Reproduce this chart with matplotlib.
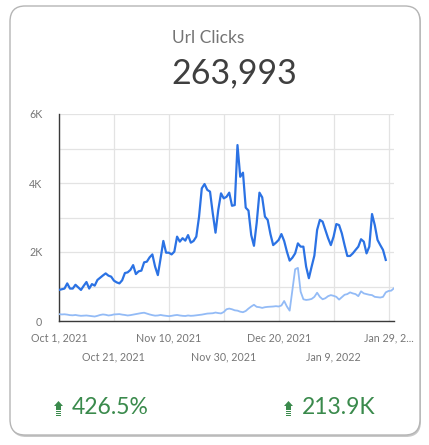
import numpy as np
import pandas as pd
import matplotlib
matplotlib.use('Agg')
import matplotlib.pyplot as plt
from matplotlib.patches import FancyBboxPatch, Polygon, Rectangle

#%% data

title = 'Url Clicks'
total = '263,993'
change_pct = '426.5%'
change_abs = '213.9K'

# daily clicks, Oct 1 2021 -> Jan 28 2022
clicks = [900, 920, 940, 1090, 940, 940, 1050, 975, 900, 1020,
          1130, 940, 1070, 1025, 1190, 1255, 1320, 1380, 1315, 1285,
          1170, 1120, 1090, 1180, 1390, 1410, 1480, 1620, 1360, 1440,
          1460, 1700, 1720, 1845, 1930, 1575, 1330, 1815, 2320, 1980,
          1980, 1930, 2010, 2445, 2300, 2400, 2330, 2490, 2270, 2320,
          2445, 3020, 3845, 3970, 3800, 3750, 3120, 2560, 3220, 3700,
          3555, 3600, 3720, 3340, 3360, 5100, 4180, 4300, 3285, 3200,
          2490, 2180, 2850, 3720, 3585, 3025, 2930, 2520, 2200, 2270,
          2350, 2520, 2320, 2010, 1750, 1835, 1960, 2250, 2155, 2155,
          1575, 1240, 1575, 1895, 2640, 2930, 2880, 2640, 2400, 2200,
          2445, 2810, 2780, 2540, 2200, 1885, 1885, 1960, 2060, 2155,
          2370, 2300, 1960, 2155, 3100, 2780, 2350, 2200, 2060, 1770]

# previous period, Oct 1 2021 -> Jan 31 2022
clicks_prev = [200, 190, 195, 185, 170, 165, 175, 160, 150, 155,
               160, 150, 140, 130, 150, 175, 190, 180, 160, 170,
               190, 195, 200, 185, 175, 160, 170, 185, 200, 215,
               230, 240, 215, 190, 170, 155, 160, 175, 160, 150,
               140, 150, 165, 175, 160, 150, 145, 160, 150, 155,
               165, 175, 185, 200, 215, 220, 225, 245, 230, 220,
               260, 340, 360, 340, 310, 300, 270, 255, 290, 360,
               420, 470, 410, 400, 380, 400, 410, 415, 420, 430,
               420, 450, 580, 420, 300, 900, 1500, 1540, 850, 630,
               610, 620, 640, 700, 820, 700, 630, 660, 720, 750,
               730, 700, 620, 690, 760, 780, 830, 800, 780, 720,
               860, 800, 780, 760, 750, 700, 690, 680, 700, 830,
               870, 880, 950]

dates = pd.date_range('2021-10-01', periods=len(clicks), freq='D')
dates_prev = pd.date_range('2021-10-01', periods=len(clicks_prev), freq='D')

# two rows of date labels
row1_dates = pd.to_datetime(['2021-10-01', '2021-11-10', '2021-12-20', '2022-01-29'])
row1_labels = ['Oct 1, 2021', 'Nov 10, 2021', 'Dec 20, 2021', 'Jan 29, 2...']
row2_dates = pd.to_datetime(['2021-10-21', '2021-11-30', '2022-01-09'])
row2_labels = ['Oct 21, 2021', 'Nov 30, 2021', 'Jan 9, 2022']

#%% figure

plt.rcParams['font.family'] = ['Lato', 'DejaVu Sans']

fig = plt.figure(figsize=(4.29, 4.45), dpi=100)
fig.patch.set_facecolor('white')

W, H = 429, 445

# card with shadow
shadow = FancyBboxPatch((11 / W, 1 - 437 / H), 410 / W, 430 / H,
                        boxstyle='round,pad=0,rounding_size=0.035',
                        transform=fig.transFigure, facecolor='#c8c8c8',
                        edgecolor='none', zorder=-2)
card = FancyBboxPatch((10 / W, 1 - 435 / H), 410 / W, 429 / H,
                      boxstyle='round,pad=0,rounding_size=0.035',
                      transform=fig.transFigure, facecolor='white',
                      edgecolor='#b5b5b5', linewidth=1.0, zorder=-1)
fig.patches.extend([shadow, card])

fig.text(172 / W, 1 - 43 / H, title, fontsize=12.5, color='#747474',
         ha='left', va='baseline')
fig.text(171 / W, 1 - 83 / H, total, fontsize=24.5, color='#3f3f3f',
         ha='left', va='baseline')

#%% chart

ax = fig.add_axes([59 / W, 1 - 321 / H, 335 / W, 207 / H])
ax.set_facecolor('none')

ax.plot(dates_prev, clicks_prev, color='#93bbf6', linewidth=1.3, zorder=3)
ax.plot(dates, clicks, color='#2b72e4', linewidth=1.6, zorder=4)

ax.set_xlim(pd.Timestamp('2021-10-01'), pd.Timestamp('2022-01-31'))
ax.set_ylim(0, 6000)

ax.set_yticks([0, 2000, 4000, 6000])
ax.set_yticklabels(['0', '2K', '4K', '6K'])
ax.set_yticks([1000, 3000, 5000], minor=True)
ax.set_xticks(row1_dates)
ax.set_xticklabels(row1_labels)
ax.set_xticks(row2_dates, minor=True)
ax.set_xticklabels(row2_labels, minor=True)

ax.grid(True, which='both', color='#e3e3e3', linewidth=0.9)
ax.set_axisbelow(True)
ax.tick_params(axis='both', which='both', length=0, colors='#757575', labelsize=7.7)
ax.tick_params(axis='y', which='major', pad=12)
ax.tick_params(axis='x', which='major', pad=8)
ax.tick_params(axis='x', which='minor', pad=22)

for s in ['top', 'right']:
    ax.spines[s].set_visible(False)
for s in ['left', 'bottom']:
    ax.spines[s].set_color('#3a3a3a')
    ax.spines[s].set_linewidth(1.0)

#%% bottom scorecards

green = '#3a8a4c'

def up_arrow(x0, y0):
    # x0 = left px, y0 = top px
    head = Polygon([((x0) / W, 1 - (y0 + 5) / H), ((x0 + 9) / W, 1 - (y0 + 5) / H),
                    ((x0 + 4.5) / W, 1 - y0 / H)], closed=True,
                   transform=fig.transFigure, facecolor=green, edgecolor='none')
    body = Rectangle(((x0 + 2) / W, 1 - (y0 + 8.5) / H), 5 / W, 3.5 / H,
                     transform=fig.transFigure, facecolor=green, edgecolor='none')
    fig.patches.extend([head, body])
    for k in range(3):
        yy = 1 - (y0 + 10 + 2.3 * k) / H
        bar = Rectangle(((x0 + 2) / W, yy - 0.8 / H), 5 / W, 1.2 / H,
                        transform=fig.transFigure, facecolor=green, edgecolor='none')
        fig.patches.append(bar)

up_arrow(54, 401)
up_arrow(284, 401)

fig.text(72 / W, 1 - 414 / H, change_pct, fontsize=16.5, color=green,
         ha='left', va='baseline')
fig.text(302 / W, 1 - 414 / H, change_abs, fontsize=16.5, color=green,
         ha='left', va='baseline')

fig.savefig('out.png', dpi=100, facecolor='white')
